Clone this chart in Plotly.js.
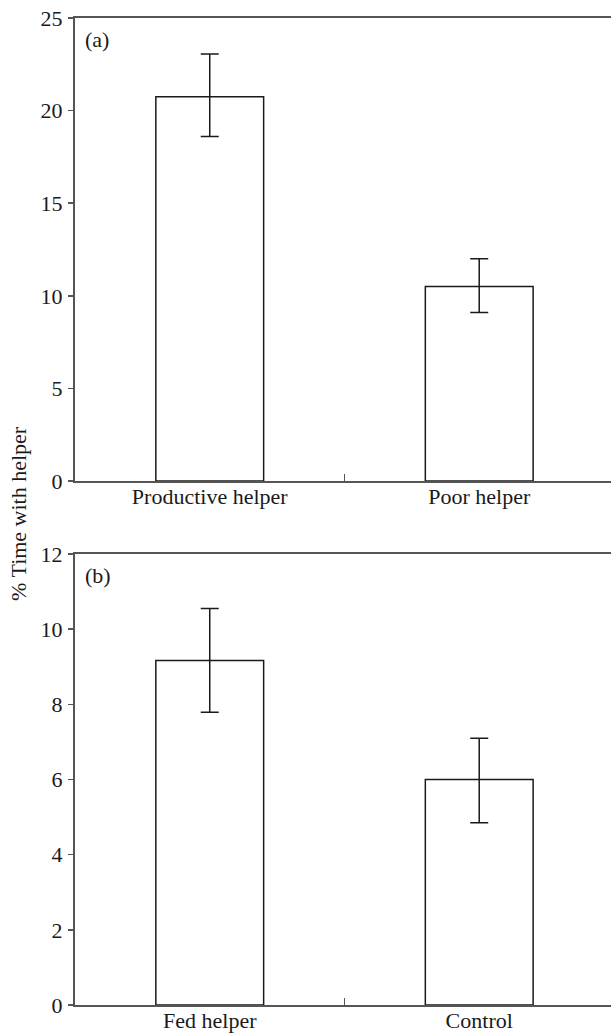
<!DOCTYPE html>
<html>
<head>
<meta charset="utf-8">
<script src="https://cdn.plot.ly/plotly-3.0.1.min.js"></script>
<style>
html,body{margin:0;padding:0;background:#fff;overflow:hidden;}
#chart{width:611px;height:1036px;}
</style>
</head>
<body>
<div id="chart"></div>
<script>
// Panel (a)
const categoriesA = ['Productive helper', 'Poor helper'];
const valuesA = [20.75, 10.5];
const errPlusA = [2.3, 1.5];
const errMinusA = [2.15, 1.4];
const yTicksA = [0, 5, 10, 15, 20, 25];

// Panel (b)
const categoriesB = ['Fed helper', 'Control'];
const valuesB = [9.17, 6.0];
const errPlusB = [1.38, 1.1];
const errMinusB = [1.38, 1.15];
const yTicksB = [0, 2, 4, 6, 8, 10, 12];

const yTitle = '% Time with helper';
const panelLabels = ['(a)', '(b)'];

const FONT = 'Liberation Serif, Times New Roman, serif';
const FS = 22;
const INK = '#1a1a1a';
const AXIS = '#555555';

function barTrace(cats, vals, ep, em, xa, ya) {
  return {
    type: 'bar',
    x: cats.map((c, i) => i),
    y: vals,
    width: 0.4,
    xaxis: xa, yaxis: ya,
    marker: {color: '#ffffff', line: {color: INK, width: 1.5}},
    error_y: {type: 'data', symmetric: false, array: ep, arrayminus: em,
              color: INK, thickness: 1.5, width: 9},
    hoverinfo: 'none',
    showlegend: false
  };
}

function xAxis(cats, anchor) {
  return {
    anchor: anchor,
    range: [-0.5, 1.489],
    tickvals: cats.map((c, i) => i),
    ticktext: cats,
    ticks: '',
    ticklabelstandoff: -5,
    showline: true, linecolor: AXIS, linewidth: 2, mirror: true,
    showgrid: false, zeroline: false,
    tickfont: {family: FONT, size: FS, color: INK},
    minor: {tickvals: [0.5], ticks: 'inside', ticklen: 7, tickcolor: AXIS, tickwidth: 1.5, showgrid: false},
    fixedrange: true
  };
}

function yAxis(ticks, domain, anchor) {
  return {
    anchor: anchor,
    domain: domain,
    range: [0, ticks[ticks.length - 1]],
    tickvals: ticks,
    ticks: 'outside', ticklen: 5, tickwidth: 1.5, tickcolor: AXIS,
    ticklabelstandoff: 1,
    showline: true, linecolor: AXIS, linewidth: 2, mirror: false,
    showgrid: false, zeroline: false,
    tickfont: {family: FONT, size: FS, color: INK},
    fixedrange: true
  };
}

const data = [
  barTrace(categoriesA, valuesA, errPlusA, errMinusA, 'x', 'y'),
  barTrace(categoriesB, valuesB, errPlusB, errMinusB, 'x2', 'y2')
];

const layout = {
  width: 611, height: 1036,
  margin: {l: 75, r: 0, t: 18, b: 31},
  paper_bgcolor: '#ffffff', plot_bgcolor: '#ffffff',
  font: {family: FONT, color: INK},
  xaxis: xAxis(categoriesA, 'y'),
  yaxis: yAxis(yTicksA, [0.5309, 1.0], 'x'),
  xaxis2: xAxis(categoriesB, 'y2'),
  yaxis2: yAxis(yTicksB, [0, 0.4569], 'x2'),
  annotations: [
    {text: panelLabels[0], xref: 'x domain', yref: 'y domain', x: 0.015, y: 0.985,
     xanchor: 'left', yanchor: 'top', showarrow: false, font: {family: FONT, size: FS, color: INK}},
    {text: panelLabels[1], xref: 'x2 domain', yref: 'y2 domain', x: 0.015, y: 0.985,
     xanchor: 'left', yanchor: 'top', showarrow: false, font: {family: FONT, size: FS, color: INK}},
    {text: yTitle, xref: 'paper', yref: 'paper', x: -0.1045, y: 0.4985,
     xanchor: 'center', yanchor: 'middle', textangle: -90, showarrow: false,
     font: {family: FONT, size: FS, color: INK}}
  ]
};

Plotly.newPlot('chart', data, layout, {staticPlot: true, displayModeBar: false});
</script>
</body>
</html>
